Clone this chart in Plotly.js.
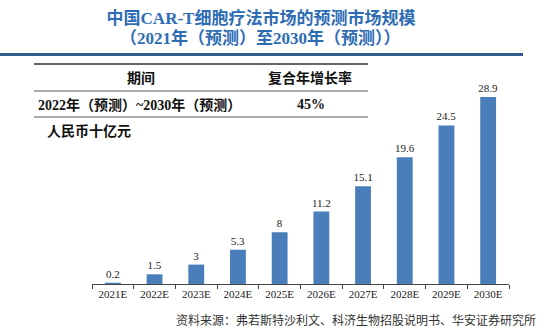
<!DOCTYPE html>
<html>
<head>
<meta charset="utf-8">
<script src="https://cdn.plot.ly/plotly-3.0.1.min.js"></script>
<style>html,body{margin:0;padding:0;background:#fff;}#chart{width:554px;height:334px;}</style>
</head>
<body>
<div id="chart"></div>
<script>
const categories = ['2021E','2022E','2023E','2024E','2025E','2026E','2027E','2028E','2029E','2030E'];
const values = [0.2, 1.5, 3, 5.3, 8, 11.2, 15.1, 19.6, 24.5, 28.9];
const titleLine1 = '中国CAR-T细胞疗法市场的预测市场规模';
const titleLine2 = '（2021年（预测）至2030年（预测））';
const tableHeader = ['期间', '复合年增长率'];
const tableRow = ['2022年（预测）~2030年（预测）', '45%'];
const unitLabel = '人民币十亿元';
const sourceText = '资料来源：弗若斯特沙利文、科济生物招股说明书、华安证券研究所';

const W = 554, H = 334;
const L = 92, R = 509, T = 97, B = 284;
const px = x => (x - L) / (R - L);
const py = y => (B - y) / (B - T);
const serif = 'Liberation Serif, Noto Sans CJK SC, serif';
const cjk = 'Liberation Serif, Noto Sans CJK SC, sans-serif';

const trace = {
  type: 'bar',
  x: categories,
  y: values,
  marker: {color: '#4A7EBB'},
  text: values.map(v => String(v)),
  textposition: 'outside',
  textfont: {family: serif, size: 11, color: '#222'},
  constraintext: 'none',
  cliponaxis: false,
  hoverinfo: 'skip'
};

const lineShape = (x0, x1, y, w, c) => ({type: 'line', xref: 'paper', yref: 'paper',
  x0: px(x0), x1: px(x1), y0: py(y), y1: py(y), line: {color: c, width: w}});

const ann = (text, x, y, anchor, size, color) => ({text, xref: 'paper', yref: 'paper',
  x: px(x), y: py(y), xanchor: anchor, yanchor: 'middle', showarrow: false,
  font: {family: cjk, size, color, weight: 'bold'}});

const layout = {
  width: W, height: H,
  margin: {l: L, r: W - R, t: T, b: H - B, pad: 0},
  paper_bgcolor: '#fff', plot_bgcolor: '#fff',
  showlegend: false,
  bargap: 0.62,
  title: {text: titleLine1, x: 261 / W, xanchor: 'center', y: 1 - 18 / H, yanchor: 'middle',
    yref: 'container', xref: 'container',
    font: {family: cjk, size: 17, color: '#2E6DB4', weight: 'bold'}},
  xaxis: {type: 'category', range: [-0.5, 9.5], showline: true, linecolor: '#444', linewidth: 1,
    ticks: 'outside', tickson: 'boundaries', ticklen: 4, tickcolor: '#444', tickwidth: 1,
    showgrid: false, zeroline: false,
    tickfont: {family: serif, size: 11, color: '#222'}},
  yaxis: {visible: false, range: [0, 28.9], showgrid: false, zeroline: false},
  shapes: [
    lineShape(0, 523, 54.5, 3, '#2F5D8C'),
    lineShape(34, 368, 64, 1.5, '#333'),
    lineShape(34, 368, 91, 1.2, '#555'),
    lineShape(34, 368, 117, 1.2, '#555')
  ],
  annotations: [
    ann(titleLine2, 260, 38, 'center', 17, '#2E6DB4'),
    ann(tableHeader[0], 141, 78, 'center', 14, '#111'),
    ann(tableHeader[1], 310, 78, 'center', 14, '#111'),
    ann(tableRow[0], 36, 105, 'left', 14, '#111'),
    ann(tableRow[1], 311, 105, 'center', 14, '#111'),
    ann(unitLabel, 45, 131, 'left', 14, '#111'),
    {text: sourceText, xref: 'paper', yref: 'paper', x: px(538), y: py(320), xanchor: 'right',
      yanchor: 'middle', showarrow: false, font: {family: cjk, size: 12, color: '#333'}}
  ]
};

Plotly.newPlot('chart', [trace], layout, {displayModeBar: false, staticPlot: true});
</script>
</body>
</html>
